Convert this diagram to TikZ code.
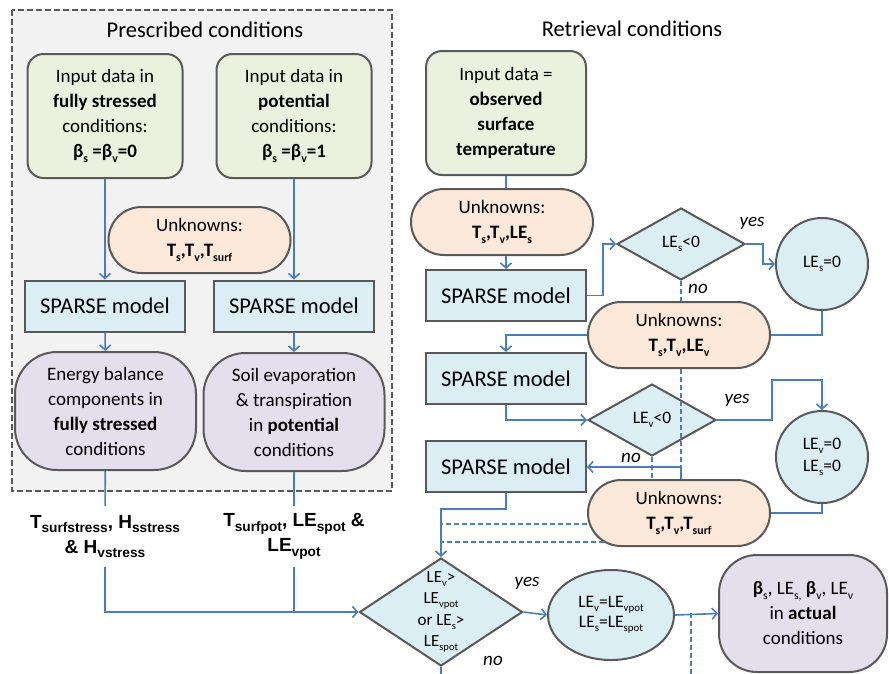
\documentclass[tikz,border=0pt]{standalone}
\usepackage{fontspec}
\usepackage{graphicx}
\setmainfont{Carlito}
\newfontfamily\arialf{Liberation Sans}
\usetikzlibrary{shapes.geometric,arrows.meta}
\definecolor{bordergray}{HTML}{595959}
\definecolor{greenfill}{HTML}{EBF1DE}
\definecolor{orangefill}{HTML}{FDE9D9}
\definecolor{bluefill}{HTML}{DBEEF4}
\definecolor{purplefill}{HTML}{E4DFEC}
\definecolor{arrowblue}{HTML}{4A7EBB}
\definecolor{bggray}{HTML}{F2F2F2}
\newcommand{\sbs}[1]{\raisebox{-0.22em}{\scalebox{0.62}{#1}}}
\newcommand{\sbl}[1]{\raisebox{-0.25em}{\scalebox{0.72}{#1}}}
\tikzset{
  shp/.style={draw=bordergray, line width=2pt, align=center, inner sep=0pt},
  greenbox/.style={shp, fill=greenfill, rounded corners=16pt, minimum width=155pt, minimum height=124pt, font=\fontsize{19}{25}\selectfont},
  unkbox/.style={shp, fill=orangefill, rounded corners=33pt, minimum width=182pt, minimum height=66pt, font=\fontsize{19}{25}\selectfont},
  sparse/.style={shp, fill=bluefill, rounded corners=0pt, minimum width=160pt, minimum height=51pt, font=\fontsize{22.5}{26}\selectfont},
  purplebox/.style={shp, fill=purplefill, rounded corners=42pt, minimum width=181pt, minimum height=118pt, font=\fontsize{19}{25}\selectfont},
  decis/.style={shp, diamond, fill=bluefill, font=\fontsize{17.5}{22}\selectfont},
  circ/.style={shp, circle, fill=bluefill, minimum size=92pt, font=\fontsize{17.5}{22}\selectfont},
  ln/.style={draw=arrowblue, line width=1.6pt},
  arr/.style={ln, -{Straight Barb[length=5pt,width=11pt,line width=1.6pt]}},
  dsh/.style={ln, dash pattern=on 5pt off 3pt},
  lbl/.style={align=center, inner sep=0pt, font=\arialf\bfseries\fontsize{19}{25}\selectfont},
  yn/.style={inner sep=0pt, font=\itshape\fontsize{19}{20}\selectfont},
  ttl/.style={inner sep=0pt, font=\fontsize{22.5}{24}\selectfont}
}
\begin{document}
\begin{tikzpicture}[x=1pt,y=-1pt]
\useasboundingbox (0,0) rectangle (889,673);
% left panel
\draw[fill=bggray, draw=bordergray, line width=2pt, dash pattern=on 6pt off 3pt] (12,10) rectangle (392,491);
\node[ttl] (t1) at (205,30) {Prescribed conditions};
\node[ttl] (t2) at (632,29) {Retrieval conditions};

\node[greenbox] (g1) at (105,116) {Input data in\\\textbf{fully stressed}\\conditions:\\\textbf{β\sbs{s} =β\sbs{v}=0}};
\node[greenbox] (g2) at (294,116) {Input data in\\\textbf{potential}\\conditions:\\\textbf{β\sbs{s} =β\sbs{v}=1}};
\node[unkbox] (u0) at (199.5,240) {Unknowns:\\\textbf{T\sbs{s},T\sbs{v},T\sbs{surf}}};
\node[sparse] (s1) at (105,306) {SPARSE model};
\node[sparse] (s2) at (294,306) {SPARSE model};
\node[purplebox] (p1) at (105.5,411) {Energy balance\\components in\\\textbf{fully stressed}\\conditions};
\node[purplebox] (p2) at (294,412) {Soil evaporation\\\& transpiration\\in \textbf{potential}\\conditions};
\node[lbl, minimum height=61pt] (l1) at (105,536.5) {T\sbl{surfstress}, H\sbl{sstress}\\\& H\sbl{vstress}};
\node[lbl, minimum height=61pt] (l2) at (294,536.5) {T\sbl{surfpot}, LE\sbl{spot} \&\\LE\sbl{vpot}};

\draw[arr] (g1) -- (s1);
\draw[arr] (g2) -- (s2);
\draw[arr] (s1) -- (p1);
\draw[arr] (s2) -- (p2);
\draw[ln] (p1) -- (l1);
\draw[ln] (p2) -- (l2);

% right side
\node[greenbox, minimum width=160pt] (g3) at (506,113) {Input data =\\\textbf{observed}\\\textbf{surface}\\\textbf{temperature}};
\node[unkbox] (u1) at (502,222) {Unknowns:\\\textbf{T\sbs{s},T\sbs{v},LE\sbs{s}}};
\node[sparse] (s3) at (506,295.5) {SPARSE model};
\node[decis, minimum width=128pt, minimum height=72pt] (d1) at (681,244) {LE\sbs{s}<0};
\node[circ] (c1) at (822,264) {LE\sbs{s}=0};
\node[unkbox] (u2) at (679,335) {Unknowns:\\\textbf{T\sbs{s},T\sbs{v},LE\sbs{v}}};
\node[sparse] (s4) at (506,378.5) {SPARSE model};
\node[decis, minimum width=128pt, minimum height=72pt] (d2) at (652,420) {LE\sbs{v}<0};
\node[circ] (c2) at (822,457) {LE\sbs{v}=0\\LE\sbs{s}=0};
\node[sparse] (s5) at (506,466.5) {SPARSE model};
\node[unkbox] (u3) at (679,513) {Unknowns:\\\textbf{T\sbs{s},T\sbs{v},T\sbs{surf}}};
\node[decis, minimum width=163pt, minimum height=108pt, label={[align=center, inner sep=0pt, font=\fontsize{17}{21.5}\selectfont]center:{LE\sbs{v}>\\LE\sbs{vpot}\\or LE\sbs{s}>\\LE\sbs{spot}}}] (d3) at (441,612) {};
\node[shp, ellipse, fill=bluefill, minimum width=126pt, minimum height=90pt, font=\fontsize{17.5}{20}\selectfont] (e1) at (611,615) {LE\sbs{v}=LE\sbs{vpot}\\LE\sbs{s}=LE\sbs{spot}};
\node[purplebox, minimum width=168pt, minimum height=117pt, rounded corners=38pt] (p3) at (803,613.5) {\textbf{β}\sbs{s}, LE\sbs{s,} \textbf{β}\sbs{v}, LE\sbs{v}\\in \textbf{actual}\\conditions};

\node[yn] (y1) at (752,223) {yes};
\node[yn] (n1) at (698,289) {no};
\node[yn] (y2) at (737,400) {yes};
\node[yn] (n2) at (631,458) {no};
\node[yn] (y3) at (527,583) {yes};
\node[yn] (n3) at (493,661) {no};

\coordinate (k) at (681,467);
\coordinate (m) at (691,613);

\draw[ln] (g3.south) -- (g3.south |- u1.north);
\draw[arr] (u1.south -| s3.north) -- (s3.north);
\draw[arr] (s3.east) -- ++(16,0) |- (d1.west);
\draw[arr] (d1.east) -- ++(17,0) |- (c1.west);
\draw[dsh] (d1.south) -- (d1.south |- u2.north);
\draw[ln] (c1.south) |- (u2.east);
\draw[arr] (u2.west) -| (s4.north);
\draw[arr] (s4.south) |- (d2.west);
\draw[arr] (d2.east) -- ++(55,0) |- ([yshift=30pt]c2.north) -- (c2.north);
\draw[ln] (c2.south) |- (u3.east);
\draw[dsh] (u2.south -| k) -- (k);
\draw[dsh] (d2.south) -- (d2.south |- u3.north);
\draw[arr] (u3.north -| k) -- (k) -- (k -| s5.east);
\draw[arr] (s5.south) -- ++(0,16) -| (d3.north);
\draw[dsh] ([yshift=-11pt]u3.west) -- ([yshift=-11pt]u3.west -| d3.north);
\draw[dsh] ([xshift=17pt,yshift=-29pt]u3.west) -- ([yshift=-29pt]u3.west -| d3.north);
\draw[ln] (d3.south) -- ++(0,8);
\draw[arr] (l1.south) |- (d3.west);
\draw[ln] (l2.south) -- (l2.south |- d3.west);
\draw[arr] (d3.east) -- (e1.west);
\draw[arr] (e1.east) -- (p3.west);
\draw[dsh] (m) -- ++(0,62);
\end{tikzpicture}
\end{document}
